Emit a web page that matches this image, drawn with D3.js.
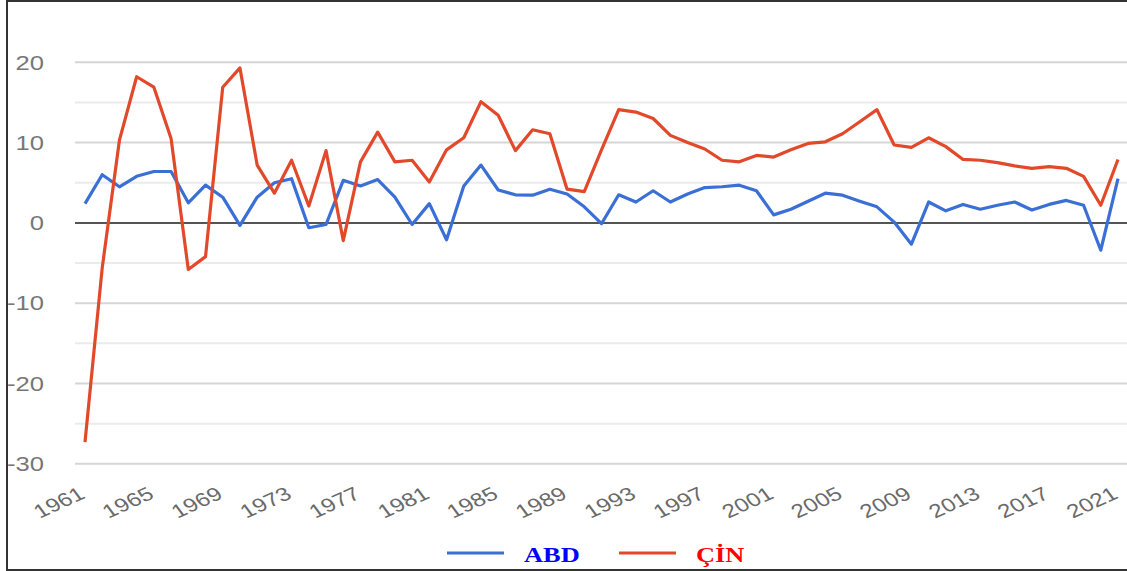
<!DOCTYPE html>
<html>
<head>
<meta charset="utf-8">
<script src="https://cdn.jsdelivr.net/npm/d3@7"></script>
<style>
  body { margin: 0; background: #fff; }
  svg { display: block; }
</style>
</head>
<body>
<svg width="1127" height="571"></svg>
<script>
// years on the x axis
const years = [1961, 1962, 1963, 1964, 1965, 1966, 1967, 1968, 1969, 1970,
  1971, 1972, 1973, 1974, 1975, 1976, 1977, 1978, 1979, 1980,
  1981, 1982, 1983, 1984, 1985, 1986, 1987, 1988, 1989, 1990,
  1991, 1992, 1993, 1994, 1995, 1996, 1997, 1998, 1999, 2000,
  2001, 2002, 2003, 2004, 2005, 2006, 2007, 2008, 2009, 2010,
  2011, 2012, 2013, 2014, 2015, 2016, 2017, 2018, 2019, 2020, 2021];

// growth rates (%)
const abd = [2.4, 6.0, 4.5, 5.8, 6.4, 6.4, 2.5, 4.7, 3.2, -0.3,
  3.2, 5.0, 5.5, -0.6, -0.2, 5.3, 4.6, 5.4, 3.2, -0.2,
  2.4, -2.1, 4.6, 7.2, 4.1, 3.5, 3.45, 4.2, 3.6, 2.0,
  -0.1, 3.5, 2.6, 4.0, 2.6, 3.6, 4.4, 4.5, 4.7, 4.0,
  1.0, 1.7, 2.7, 3.7, 3.45, 2.7, 2.0, 0.1, -2.65, 2.6,
  1.5, 2.3, 1.7, 2.2, 2.6, 1.6, 2.3, 2.8, 2.2, -3.4, 5.5];

const cin = [-27.3, -5.6, 10.3, 18.2, 16.9, 10.5, -5.8, -4.2, 16.9, 19.3,
  7.2, 3.7, 7.8, 2.1, 9.0, -2.2, 7.6, 11.3, 7.6, 7.8,
  5.1, 9.1, 10.6, 15.1, 13.4, 9.0, 11.6, 11.1, 4.2, 3.9,
  9.1, 14.1, 13.8, 13.0, 10.9, 10.0, 9.2, 7.8, 7.6, 8.4,
  8.2, 9.1, 9.9, 10.1, 11.1, 12.6, 14.1, 9.7, 9.4, 10.6,
  9.5, 7.9, 7.8, 7.5, 7.1, 6.8, 7.0, 6.8, 5.8, 2.2, 7.9];

const xTickYears = [1961, 1965, 1969, 1973, 1977, 1981, 1985, 1989,
  1993, 1997, 2001, 2005, 2009, 2013, 2017, 2021];
const yTicks = [20, 10, 0, -10, -20, -30];
const yGrid = [20, 15, 10, 5, -5, -10, -15, -20, -25, -30];

const series = [
  { name: "ABD", values: abd, color: "#3a6fd6", text: "#0000ff" },
  { name: "ÇİN", values: cin, color: "#e2492a", text: "#ff0000" }
];

const svg = d3.select("svg");
const W = +svg.attr("width"), H = +svg.attr("height");

// the picture is a bit stretched sideways, text follows that
const stretch = 1.28;

const x = d3.scaleLinear().domain([1961, 2021]).range([85, 1118]);
const y = d3.scaleLinear().domain([-30, 20]).range([463.8, 62.3]);
const gridLeft = 75;

// grid lines
svg.append("g").selectAll("line")
  .data(yGrid)
  .join("line")
  .attr("x1", gridLeft).attr("x2", W)
  .attr("y1", d => y(d)).attr("y2", d => y(d))
  .attr("stroke", d => d % 10 === 0 ? "#d6d6d6" : "#ebebeb")
  .attr("stroke-width", 2);

// zero line
svg.append("line")
  .attr("x1", gridLeft).attr("x2", W)
  .attr("y1", y(0)).attr("y2", y(0))
  .attr("stroke", "#555").attr("stroke-width", 2);

// y labels
svg.append("g").selectAll("text")
  .data(yTicks)
  .join("text")
  .attr("transform", d => `translate(44, ${y(d)}) scale(${stretch},1)`)
  .attr("dy", "0.36em")
  .attr("text-anchor", "end")
  .attr("font-family", "Liberation Sans, Arial, sans-serif")
  .attr("font-size", 20)
  .attr("fill", "#777")
  .text(d => d);

// x labels, rotated
svg.append("g").selectAll("text")
  .data(xTickYears)
  .join("text")
  .attr("transform", d => `translate(${x(d) - 7}, 486) scale(${stretch},1) rotate(-30)`)
  .attr("dy", "0.7em")
  .attr("text-anchor", "end")
  .attr("font-family", "Liberation Sans, Arial, sans-serif")
  .attr("font-size", 19)
  .attr("fill", "#6a6a6a")
  .text(d => d);

// lines
const line = d3.line()
  .x((d, i) => x(years[i]))
  .y(d => y(d));

svg.append("g").selectAll("path")
  .data(series)
  .join("path")
  .attr("d", d => line(d.values))
  .attr("fill", "none")
  .attr("stroke", d => d.color)
  .attr("stroke-width", 3.2)
  .attr("stroke-linejoin", "round");

// legend
const legendX = [447, 619];
const leg = svg.append("g").selectAll("g")
  .data(series)
  .join("g")
  .attr("transform", (d, i) => `translate(${legendX[i]}, 553)`);

leg.append("line")
  .attr("x1", 0).attr("x2", 57)
  .attr("stroke", d => d.color)
  .attr("stroke-width", 3);

leg.append("text")
  .attr("transform", `translate(77, 9) scale(1.2,1)`)
  .attr("font-family", "Liberation Serif, Times New Roman, serif")
  .attr("font-weight", "bold")
  .attr("font-size", 22)
  .attr("fill", d => d.text)
  .text(d => d.name);

// frame round the picture
svg.append("rect")
  .attr("x", 7).attr("y", 1)
  .attr("width", W).attr("height", 569)
  .attr("fill", "none")
  .attr("stroke", "#333")
  .attr("stroke-width", 2);
</script>
</body>
</html>
